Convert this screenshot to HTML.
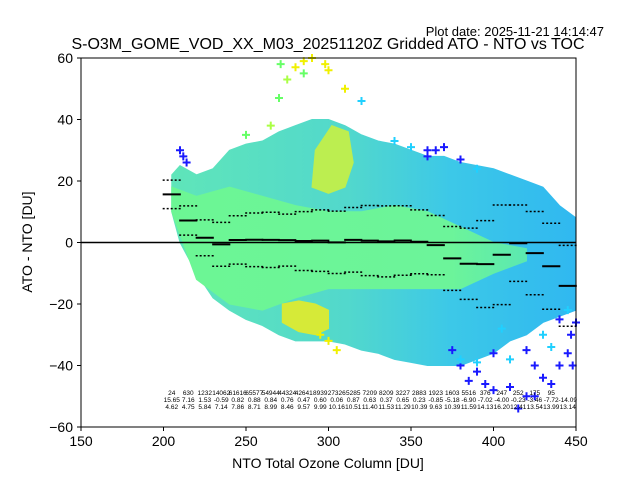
<!DOCTYPE html>
<html><head><meta charset="utf-8"><style>
html,body{margin:0;padding:0;background:#fff;}
svg{display:block;font-family:"Liberation Sans",sans-serif;}
</style></head><body>
<svg id="chart" width="640" height="480" viewBox="0 0 640 480">
<defs>
<linearGradient id="envGrad" gradientUnits="userSpaceOnUse" x1="160" y1="0" x2="576" y2="0">
<stop offset="0" stop-color="#60e6b8"/><stop offset="0.45" stop-color="#52d8cc"/><stop offset="0.7" stop-color="#3cc8e8"/><stop offset="1" stop-color="#30b8f0"/>
</linearGradient>
<linearGradient id="coreGrad" gradientUnits="userSpaceOnUse" x1="160" y1="0" x2="576" y2="0">
<stop offset="0" stop-color="#6cf694"/><stop offset="0.7" stop-color="#6cf49a"/><stop offset="1" stop-color="#50e0c0"/>
</linearGradient>
</defs>
<text x="604" y="36" text-anchor="end" font-size="13">Plot date: 2025-11-21 14:14:47</text>
<text x="328" y="49" text-anchor="middle" font-size="16">S-O3M_GOME_VOD_XX_M03_20251120Z Gridded ATO - NTO vs TOC</text>
<g id="clouds"></g><g id="marks"></g><g id="stats"></g><g id="axes"></g>
<text x="328" y="468" text-anchor="middle" font-size="14">NTO Total Ozone Column [DU]</text>
<text x="32" y="242" text-anchor="middle" font-size="14" transform="rotate(-90 32 242)">ATO - NTO [DU]</text>
</svg>
<script>
const binCenters=[205,215,225,235,245,255,265,275,285,295,305,315,325,335,345,355,365,375,385,395,405,415,425,435,445];
const counts=["24","630","1232","14062","61616","65577","54944","44324","42641","8939","27326","5285","7209","8209","3227","2883","1923","1603","5516","376","247","252","175","95",""];
const means=[15.65,7.16,1.53,-0.59,0.82,0.88,0.84,0.76,0.47,0.60,0.06,0.87,0.63,0.37,0.65,0.23,-0.85,-5.18,-6.9,-7.02,-4.00,-0.23,-3.46,-7.72,-14.09];
const stds=[4.62,4.75,5.84,7.14,7.86,8.71,8.99,8.46,9.57,9.99,10.16,10.51,11.4,11.53,11.29,10.39,9.63,10.39,11.59,14.13,16.2,12.41,13.54,13.99,13.14];
const envX=[205,210,220,230,240,250,260,270,280,290,300,310,320,330,340,350,360,370,380,390,400,410,420,430,440,450];
const envUp=[22,25,22,24,30,32,33,36,38,40,40,38,35,33,32,30,28,28,26,25,24,22,20,18,12,8];
const envLo=[10,0,-10,-18,-22,-25,-27,-30,-32,-32,-32,-33,-35,-36,-38,-39,-40,-40,-40,-38,-36,-32,-30,-26,-24,-22];
const coreX=[205,220,240,260,280,300,320,340,360,380,400,420];
const coreUp=[18,15,18,15,12,10,10,12,10,5,0,-2];
const coreLo=[10,-12,-20,-22,-18,-15,-15,-15,-15,-15,-10,-6];
const yelLoX=[272,282,292,300,300,292,282,272];
const yelLoY=[-20,-19,-20,-22,-28,-30,-29,-26];
const yelUpX=[290,300,310,315,312,302,292];
const yelUpY=[18,16,18,26,36,38,30];
const ptX=[271,275,280,285,290,298,300,285,310,320,270,265,250,300,305,295,415,420,410,400,430,440,445,435,390,380,385,395,425,447,375,360,365,210,212,214,340,350,360,370,380,390,420,430,440,445,410,400,450,405,425,435,448,380,390];
const ptY=[58,53,57,59,60,58,56,55,50,46,47,38,35,-32,-35,-30,-54,-50,-47,-48,-44,-40,-36,-46,-42,-40,-45,-46,-50,-30,-35,28,30,30,28,26,33,31,30,31,27,24,-35,-30,-25,-22,-38,-36,-26,-28,-40,-34,-40,-38,-39];
const ptC=["#66ff66","#aaff44","#f0f000","#f0f000","#f0f000","#f0f000","#f0f000","#66ff66","#f0f000","#20d0ff","#66ff66","#aaff44","#66ff66","#f0f000","#f0f000","#f0f000","#1a1aff","#1a1aff","#1a1aff","#1a1aff","#1a1aff","#1a1aff","#1a1aff","#1a1aff","#1a1aff","#1a1aff","#1a1aff","#1a1aff","#1a1aff","#1a1aff","#1a1aff","#1a1aff","#1a1aff","#1a1aff","#1a1aff","#1a1aff","#20d0ff","#20d0ff","#1a1aff","#1a1aff","#1a1aff","#20d0ff","#1a1aff","#20d0ff","#1a1aff","#20d0ff","#20d0ff","#1a1aff","#1a1aff","#20d0ff","#1a1aff","#20d0ff","#1a1aff","#20d0ff","#20d0ff"];
const xTicks=[150,200,250,300,350,400,450];
const yTicks=[-60,-40,-20,0,20,40,60];

const NS="http://www.w3.org/2000/svg";
const X=v=>81+(v-150)*1.65;
const Y=v=>242.5-v*3.075;
function mk(tag,attrs,parent){const e=document.createElementNS(NS,tag);for(const k in attrs)e.setAttribute(k,attrs[k]);parent.appendChild(e);return e;}
const clouds=document.getElementById('clouds'),marks=document.getElementById('marks'),stats=document.getElementById('stats'),axes=document.getElementById('axes');
function poly(xs,up,lo,fill,name){
  let pts=xs.map((x,i)=>X(x)+','+Y(up[i]));
  if(lo){for(let i=xs.length-1;i>=0;i--)pts.push(X(xs[i])+','+Y(lo[i]));}
  const p=mk('polygon',{points:pts.join(' '),fill:fill,stroke:fill,'stroke-width':1},clouds);
  
  
}
poly(envX,envUp,envLo,'url(#envGrad)','scatter-cloud-envelope');
poly(coreX,coreUp,coreLo,'url(#coreGrad)','scatter-cloud-core');
poly(yelLoX,yelLoY,null,'#d6ea38','scatter-yellow-lower');
poly(yelUpX,yelUpY,null,'#bcee50','scatter-yellow-upper');
ptX.forEach((x,i)=>{
  const cx=X(x),cy=Y(ptY[i]);
  const g=mk('path',{d:`M${cx-4},${cy}H${cx+4}M${cx},${cy-4}V${cy+4}`,stroke:ptC[i],'stroke-width':2},marks);
  
  
});
const z=mk('line',{x1:81,x2:576,y1:Y(0),y2:Y(0),stroke:'#000','stroke-width':1.5},marks);


binCenters.forEach((c,i)=>{
  const x1=X(c-5.5),x2=X(c+5.5);
  const m=mk('line',{x1:x1,x2:x2,y1:Y(means[i]),y2:Y(means[i]),stroke:'#000','stroke-width':2},marks);
  
  
  [1,-1].forEach(s=>{
    const d=mk('line',{x1:x1,x2:x2,y1:Y(means[i]+s*stds[i]),y2:Y(means[i]+s*stds[i]),stroke:'#000','stroke-width':1.5,'stroke-dasharray':'2,2'},marks);
    
    
  });
  [[counts[i],395],[means[i].toFixed(2),402],[stds[i].toFixed(2),409]].forEach(r=>{
    const t=mk('text',{x:X(c),y:r[1],'text-anchor':'middle','font-size':6.5},stats);
    t.textContent=r[0];
    
    
  });
});
const fr=mk('rect',{x:81,y:58,width:495,height:369,fill:'none',stroke:'#000','stroke-width':1},axes);


xTicks.forEach(v=>{
  mk('line',{x1:X(v),x2:X(v),y1:427,y2:431,stroke:'#000'},axes);
  const t=mk('text',{x:X(v),y:446,'text-anchor':'middle','font-size':14},axes);
  t.textContent=v;
  
  
});
yTicks.forEach(v=>{
  mk('line',{x1:77,x2:81,y1:Y(v),y2:Y(v),stroke:'#000'},axes);
  const t=mk('text',{x:73,y:Y(v)+5,'text-anchor':'end','font-size':14},axes);
  t.textContent=v<0?'\u2212'+(-v):v;
  
  
});
</script>
</body></html>
